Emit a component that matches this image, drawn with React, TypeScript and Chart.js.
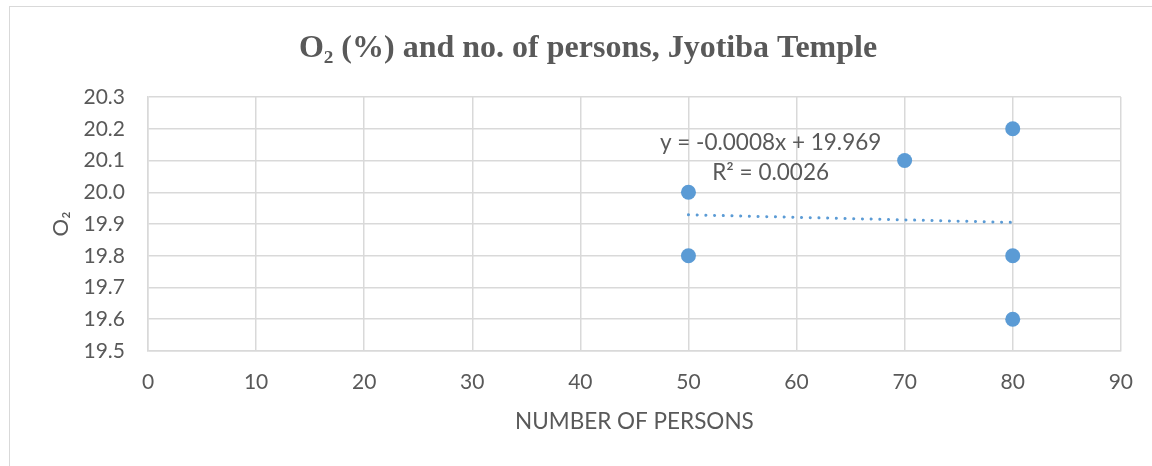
import React, { useEffect, useRef } from "react";
import { Chart, registerables } from "chart.js";

Chart.register(...registerables);

const persons = [50, 50, 70, 80, 80, 80];
const oxygen = [20.0, 19.8, 20.1, 20.2, 19.8, 19.6];
const trendX = [50, 80];
const slope = -0.0008;
const intercept = 19.969;
const equationText = "y = -0.0008x + 19.969";
const r2Text = "R² = 0.0026";
const labelPos = { x: 57.6, y: 20.157, y2: 20.062 };
const titleText = "O₂ (%) and no. of persons, Jyotiba Temple";
const xTitle = "NUMBER OF PERSONS";
const yTitle = "O₂";

const BLUE = "#5B9BD5";
const TEXT = "#595959";
const GRID = "#D9D9D9";
const SANS = "Lato, 'Open Sans', sans-serif";
const SERIF = "'Liberation Serif', 'Times New Roman', serif";

const textPlugin = {
  id: "chartTexts",
  afterDraw(chart: any) {
    const { ctx, scales } = chart;
    const x = scales.x.getPixelForValue(labelPos.x);
    ctx.save();
    ctx.fillStyle = TEXT;
    ctx.font = `22.5px ${SANS}`;
    ctx.textAlign = "center";
    ctx.textBaseline = "middle";
    ctx.fillText(equationText, x, scales.y.getPixelForValue(labelPos.y));
    ctx.fillText(r2Text, x, scales.y.getPixelForValue(labelPos.y2));
    ctx.font = `bold 32px ${SERIF}`;
    ctx.textBaseline = "alphabetic";
    ctx.fillText(titleText, 588, 57);
    ctx.restore();
  },
};

export default function App() {
  const ref = useRef<HTMLCanvasElement>(null);
  useEffect(() => {
    if (!ref.current) return;
    const chart = new Chart(ref.current, {
      type: "scatter",
      data: {
        datasets: [
          {
            label: "O2",
            data: persons.map((p, i) => ({ x: p, y: oxygen[i] })),
            backgroundColor: BLUE,
            borderColor: BLUE,
            pointRadius: 7.5,
            pointBorderWidth: 0,
            order: 2,
          },
          {
            label: "Trend",
            type: "line",
            data: trendX.map((x) => ({ x, y: slope * x + intercept })),
            borderColor: BLUE,
            borderWidth: 3,
            borderDash: [0.1, 8.6],
            borderCapStyle: "round",
            pointRadius: 0,
            fill: false,
            order: 1,
          } as any,
        ],
      },
      options: {
        responsive: false,
        animation: false,
        layout: { padding: { top: 97, left: 0, right: 29, bottom: 0 } },
        plugins: {
          legend: { display: false },
          tooltip: { enabled: false },
          title: { display: false },
        },
        scales: {
          x: {
            type: "linear",
            min: 0,
            max: 90,
            ticks: { stepSize: 10, color: TEXT, font: { family: SANS, size: 21 }, padding: 19 },
            grid: { color: GRID, lineWidth: 1.5, drawTicks: false },
            border: { color: GRID, width: 1.5 },
            title: {
              display: true,
              text: xTitle,
              color: TEXT,
              font: { family: SANS, size: 22.5 },
              padding: { top: 0, bottom: 31 },
            },
            afterFit(scale: any) {
              scale.height = 115;
            },
          },
          y: {
            type: "linear",
            min: 19.5,
            max: 20.3,
            ticks: {
              stepSize: 0.1,
              color: TEXT,
              font: { family: SANS, size: 21 },
              padding: 23,
              callback: (v: any) => Number(v).toFixed(1),
            },
            grid: { color: GRID, lineWidth: 1.5, drawTicks: false },
            border: { color: GRID, width: 1.5 },
            title: {
              display: true,
              text: yTitle,
              color: TEXT,
              font: { family: SANS, size: 22 },
              padding: { top: 48, bottom: 0 },
            },
            afterFit(scale: any) {
              scale.width = 148;
            },
          },
        },
      },
      plugins: [textPlugin],
    });
    return () => chart.destroy();
  }, []);

  return (
    <div style={{ position: "fixed", left: 0, top: 0, width: 1152, height: 466, background: "#fff", overflow: "hidden" }}>
      <div
        style={{
          position: "absolute",
          left: 9,
          top: 6,
          width: 1200,
          height: 520,
          border: "1.5px solid #D9D9D9",
          boxSizing: "border-box",
        }}
      />
      <canvas ref={ref} width={1152} height={466} style={{ position: "absolute", left: 0, top: 0, display: "block" }} />
    </div>
  );
}
